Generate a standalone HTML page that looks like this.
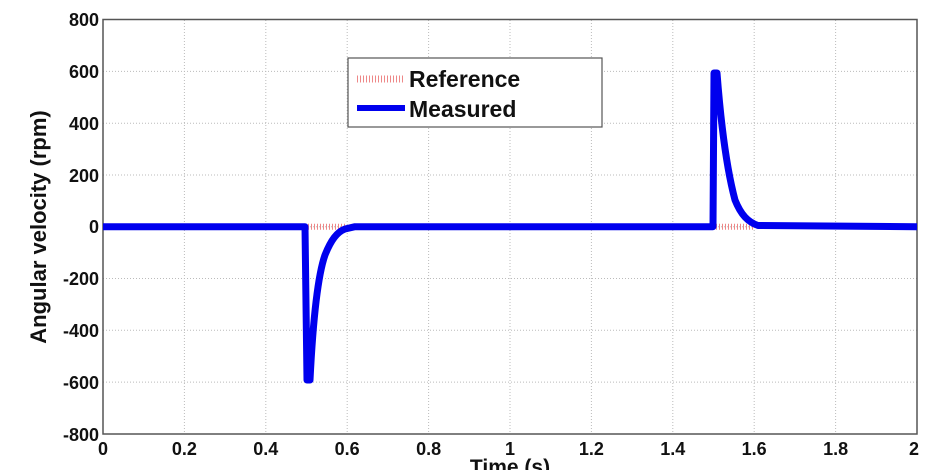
<!DOCTYPE html>
<html><head><style>body{margin:0;background:#fff}svg{display:block}</style></head><body>
<svg width="937" height="470" xmlns="http://www.w3.org/2000/svg" font-family="Liberation Sans, Arial, sans-serif" font-weight="bold">
<rect width="937" height="470" fill="#fff"/>
<g stroke="#bbb" stroke-width="1" stroke-dasharray="1,2">
<line x1="184.4" y1="20" x2="184.4" y2="434"/><line x1="265.8" y1="20" x2="265.8" y2="434"/><line x1="347.2" y1="20" x2="347.2" y2="434"/><line x1="428.6" y1="20" x2="428.6" y2="434"/><line x1="510" y1="20" x2="510" y2="434"/><line x1="591.4" y1="20" x2="591.4" y2="434"/><line x1="672.8" y1="20" x2="672.8" y2="434"/><line x1="754.2" y1="20" x2="754.2" y2="434"/><line x1="835.6" y1="20" x2="835.6" y2="434"/>
<line x1="103" y1="71.4" x2="917" y2="71.4"/><line x1="103" y1="123.2" x2="917" y2="123.2"/><line x1="103" y1="175" x2="917" y2="175"/><line x1="103" y1="226.7" x2="917" y2="226.7"/><line x1="103" y1="278.5" x2="917" y2="278.5"/><line x1="103" y1="330.3" x2="917" y2="330.3"/><line x1="103" y1="382.1" x2="917" y2="382.1"/>
</g>
<rect x="103" y="19.5" width="814" height="414.5" fill="none" stroke="#555" stroke-width="1.5"/>
<line x1="305" y1="226.7" x2="345" y2="226.7" stroke="#e88" stroke-width="6" stroke-dasharray="1,2"/>
<line x1="713" y1="226.7" x2="755" y2="226.7" stroke="#e88" stroke-width="6" stroke-dasharray="1,2"/>
<path d="M103,226.7 L305,226.7 L307,380 L310,380 C313,320 318,275 325,255 C331,240 337,232 345,229 L355,226.7 L713,226.7 L714,73 L717,73 C721,125 727,170 735,200 C741,215 748,222 758,225.5 L917,226.7" fill="none" stroke="#0000ee" stroke-width="7" stroke-linejoin="round"/>
<rect x="348" y="58" width="254" height="69" fill="#fff" stroke="#555" stroke-width="1.2"/>
<line x1="357" y1="79" x2="405" y2="79" stroke="#e88" stroke-width="7" stroke-dasharray="1,2"/>
<line x1="357" y1="108" x2="405" y2="108" stroke="#0000ee" stroke-width="6"/>
<g font-size="23" fill="#111"><text x="409" y="87">Reference</text><text x="409" y="117">Measured</text></g>
<g font-size="18" fill="#111" text-anchor="end">
<text x="99" y="26">800</text><text x="99" y="78">600</text><text x="99" y="130">400</text><text x="99" y="182">200</text><text x="99" y="233">0</text><text x="99" y="285">-200</text><text x="99" y="337">-400</text><text x="99" y="389">-600</text><text x="99" y="441">-800</text>
</g>
<g font-size="18" fill="#111" text-anchor="middle">
<text x="103" y="455">0</text><text x="184.4" y="455">0.2</text><text x="265.8" y="455">0.4</text><text x="347.2" y="455">0.6</text><text x="428.6" y="455">0.8</text><text x="510" y="455">1</text><text x="591.4" y="455">1.2</text><text x="672.8" y="455">1.4</text><text x="754.2" y="455">1.6</text><text x="835.6" y="455">1.8</text><text x="914" y="455">2</text>
<text x="510" y="474" font-size="21">Time (s)</text>
<text transform="translate(46,227) rotate(-90)" font-size="22">Angular velocity (rpm)</text>
</g>
</svg>
</body></html>
